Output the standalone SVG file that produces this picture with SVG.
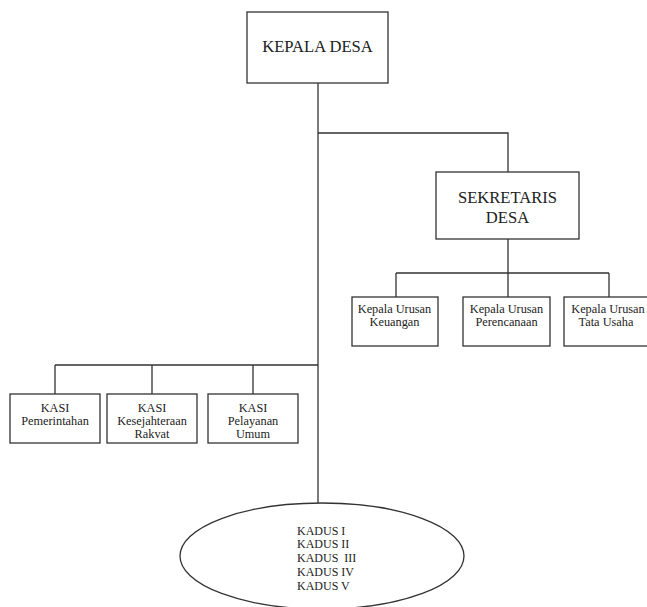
<svg xmlns="http://www.w3.org/2000/svg" width="647" height="607" viewBox="0 0 647 607">
<style>
.box{fill:#fff;stroke:#333;stroke-width:1.3}
.ln{fill:none;stroke:#333;stroke-width:1.3}
text{font-family:"Liberation Serif","Times New Roman",serif;fill:#222;text-anchor:middle}
.big{font-size:16.6px}
.sm{font-size:12.3px}
.kd{font-size:12px;text-anchor:start}
</style>
<rect width="647" height="607" fill="#fff"/>
<g id="connectors">
<path class="ln" d="M318 83V503"/>
<path class="ln" d="M318 133H508V172"/>
<path class="ln" d="M508 239V273M396 273H609M396 273V297M508 273V297M609 273V297"/>
<path class="ln" d="M55 365H318M55 365V394M152 365V394M253 365V394"/>
</g>
<g id="kepala-desa">
<rect class="box" x="247" y="12" width="141" height="71"/>
<text class="big" x="317.5" y="52">KEPALA DESA</text>
</g>
<g id="sekretaris-desa">
<rect class="box" x="436" y="172" width="143" height="67"/>
<text class="big" x="507.5" y="203">SEKRETARIS</text>
<text class="big" x="507.5" y="223">DESA</text>
</g>
<g id="kaur-keuangan">
<rect class="box" x="352" y="297" width="86" height="49"/>
<text class="sm" x="394.5" y="313">Kepala Urusan</text>
<text class="sm" x="394.5" y="326">Keuangan</text>
</g>
<g id="kaur-perencanaan">
<rect class="box" x="463" y="297" width="87" height="49"/>
<text class="sm" x="506.5" y="313">Kepala Urusan</text>
<text class="sm" x="506.5" y="326">Perencanaan</text>
</g>
<g id="kaur-tata-usaha">
<rect class="box" x="564" y="297" width="86" height="49"/>
<text class="sm" x="608" y="313">Kepala Urusan</text>
<text class="sm" x="606" y="326">Tata Usaha</text>
</g>
<g id="kasi-pemerintahan">
<rect class="box" x="10" y="394" width="90" height="49"/>
<text class="sm" x="55" y="412">KASI</text>
<text class="sm" x="55" y="425">Pemerintahan</text>
</g>
<g id="kasi-kesejahteraan">
<rect class="box" x="107" y="394" width="90" height="49"/>
<text class="sm" x="152" y="412">KASI</text>
<text class="sm" x="152" y="425">Kesejahteraan</text>
<text class="sm" x="152" y="438">Rakvat</text>
</g>
<g id="kasi-pelayanan">
<rect class="box" x="208" y="394" width="90" height="49"/>
<text class="sm" x="253" y="412">KASI</text>
<text class="sm" x="253" y="425">Pelayanan</text>
<text class="sm" x="253" y="438">Umum</text>
</g>
<g id="kadus">
<ellipse class="box" cx="322" cy="556" rx="142" ry="53"/>
<text class="kd" x="297" y="535">KADUS I</text>
<text class="kd" x="297" y="548">KADUS II</text>
<text class="kd" x="297" y="562" xml:space="preserve">KADUS  III</text>
<text class="kd" x="297" y="576">KADUS IV</text>
<text class="kd" x="297" y="590">KADUS V</text>
</g>
</svg>
